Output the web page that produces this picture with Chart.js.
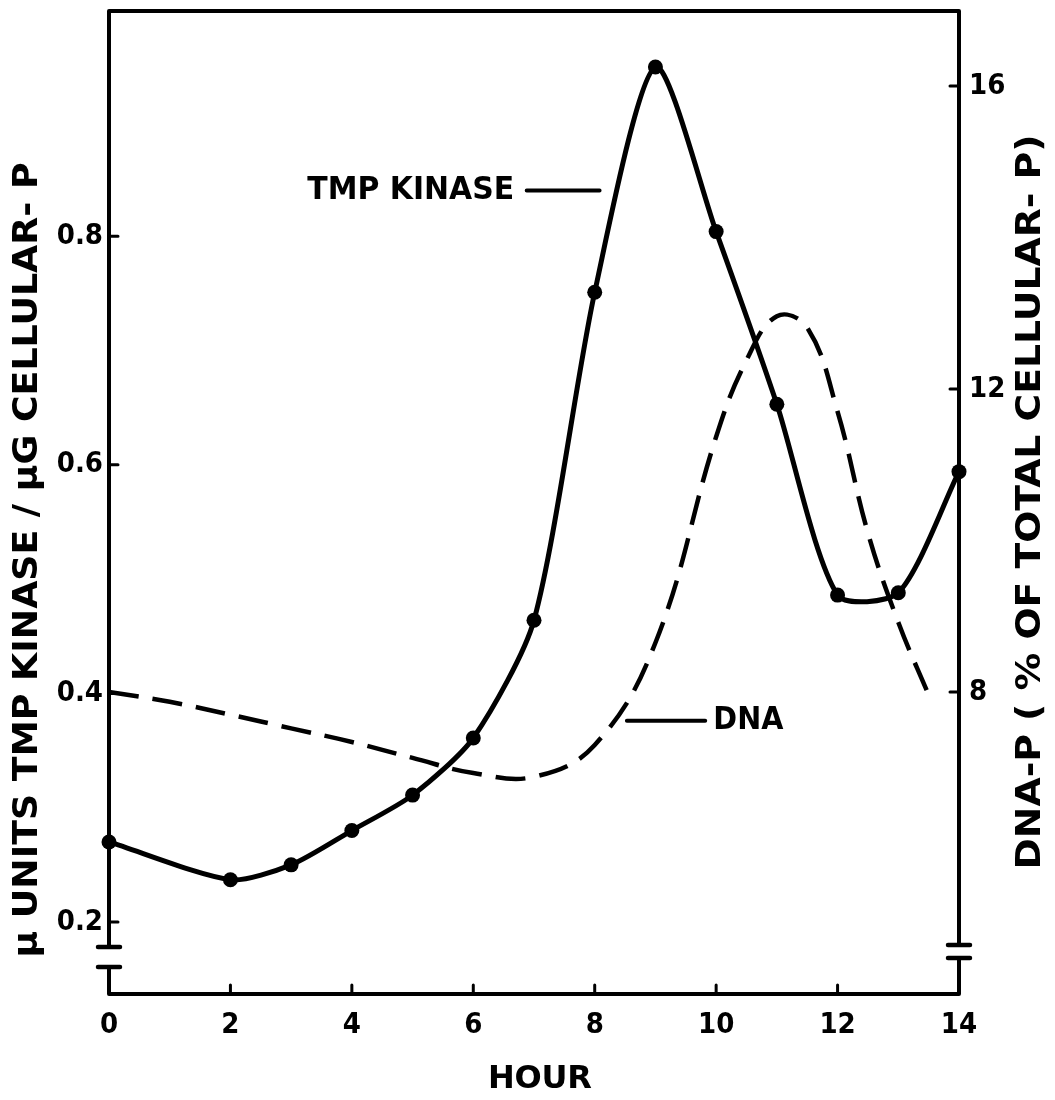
<!DOCTYPE html>
<html>
<head>
<meta charset="utf-8">
<script src="https://cdn.jsdelivr.net/npm/chart.js@4.4.1/dist/chart.umd.min.js"></script>
<style>
  html, body { margin: 0; padding: 0; background: #fff; }
  #wrap { width: 1055px; height: 1100px; position: relative; }
</style>
</head>
<body>
<div id="wrap"><canvas id="kinaseChart"></canvas></div>
<script>
// values
var kinaseHours = [0, 2, 3, 4, 5, 6, 7, 8, 9, 10, 11, 12, 13, 14];
var kinaseUnits = [0.270, 0.237, 0.250, 0.280, 0.311, 0.361, 0.464, 0.751, 0.948, 0.804, 0.653, 0.486, 0.488, 0.594];

var dnaHours = [0, 1, 2, 3, 4, 5, 6, 7, 8, 9, 10, 10.5, 11, 11.5, 12, 12.5, 13, 13.5];
var dnaPercent = [8.00, 7.87, 7.70, 7.52, 7.34, 7.13, 6.93, 6.88, 7.30, 8.65, 11.37, 12.38, 12.96, 12.81, 11.70, 10.10, 8.92, 7.96];

var hourTicks = [0, 2, 4, 6, 8, 10, 12, 14];
var kinaseTicks = [0.2, 0.4, 0.6, 0.8];
var dnaTicks = [8, 12, 16];

var FAMILY = '"DejaVu Sans"';
var NARROW = '"DejaVu Sans Condensed", "DejaVu Sans"';

var toPoints = function(xs, ys) {
    return xs.map(function(x, i) { return { x: x, y: ys[i] }; });
};

var fixTicks = function(list) {
    return function(scale) {
        scale.ticks = list.map(function(v) { return { value: v }; });
    };
};

// text squeezed/stretched to a given length, optionally rotated
var drawFitted = function(ctx, text, cx, cy, width, size, angle) {
    ctx.save();
    ctx.translate(cx, cy);
    ctx.rotate(angle || 0);
    ctx.font = 'bold ' + size + 'px ' + FAMILY;
    var w = ctx.measureText(text).width;
    ctx.scale(width / w, 1);
    ctx.textAlign = 'center';
    ctx.textBaseline = 'middle';
    ctx.fillStyle = '#000';
    ctx.fillText(text, 0, 0);
    ctx.restore();
};

// letters spread evenly over a given length
var drawSpaced = function(ctx, text, cx, cy, width, size) {
    ctx.save();
    ctx.font = 'bold ' + size + 'px ' + FAMILY;
    ctx.fillStyle = '#000';
    ctx.textAlign = 'left';
    ctx.textBaseline = 'middle';
    var widths = text.split('').map(function(c) { return ctx.measureText(c).width; });
    var sum = widths.reduce(function(a, b) { return a + b; }, 0);
    var gap = (width - sum) / (text.length - 1);
    var x = cx - width / 2;
    text.split('').forEach(function(c, i) {
        ctx.fillText(c, x, cy);
        x += widths[i] + gap;
    });
    ctx.restore();
};

var paperFrame = {
    id: 'paperFrame',
    afterDraw: function(chart) {
        var ctx = chart.ctx;
        var a = chart.chartArea;
        var xs = chart.scales.x;
        var ys = chart.scales.y;
        var ys1 = chart.scales.y1;

        ctx.save();
        ctx.strokeStyle = '#000';
        ctx.lineWidth = 4;
        ctx.lineCap = 'round';
        ctx.lineJoin = 'round';

        // box, with the broken axes near the bottom
        ctx.beginPath();
        ctx.moveTo(a.left, a.bottom - 47);
        ctx.lineTo(a.left, a.top);
        ctx.lineTo(a.right, a.top);
        ctx.lineTo(a.right, a.bottom - 49);
        ctx.moveTo(a.left, a.bottom - 27);
        ctx.lineTo(a.left, a.bottom);
        ctx.lineTo(a.right, a.bottom);
        ctx.lineTo(a.right, a.bottom - 36);
        ctx.stroke();

        ctx.lineWidth = 4.5;
        ctx.beginPath();
        [47, 27].forEach(function(d) {
            ctx.moveTo(a.left - 11, a.bottom - d);
            ctx.lineTo(a.left + 11, a.bottom - d);
        });
        [49, 36].forEach(function(d) {
            ctx.moveTo(a.right - 11, a.bottom - d);
            ctx.lineTo(a.right + 11, a.bottom - d);
        });
        ctx.stroke();

        // inward tick marks
        ctx.lineWidth = 3;
        ctx.beginPath();
        ys.ticks.forEach(function(t) {
            var p = ys.getPixelForValue(t.value);
            ctx.moveTo(a.left, p);
            ctx.lineTo(a.left + 9, p);
        });
        ys1.ticks.forEach(function(t) {
            var p = ys1.getPixelForValue(t.value);
            ctx.moveTo(a.right, p);
            ctx.lineTo(a.right - 9, p);
        });
        xs.ticks.forEach(function(t) {
            if (t.value === 0 || t.value === 14) { return; }
            var p = xs.getPixelForValue(t.value);
            ctx.moveTo(p, a.bottom);
            ctx.lineTo(p, a.bottom - 9);
        });
        ctx.stroke();

        // curve labels with leader lines
        ctx.lineWidth = 4;
        ctx.beginPath();
        ctx.moveTo(xs.getPixelForValue(6.88), ys.getPixelForValue(0.840));
        ctx.lineTo(xs.getPixelForValue(8.08), ys.getPixelForValue(0.840));
        ctx.moveTo(xs.getPixelForValue(8.53), ys1.getPixelForValue(7.62));
        ctx.lineTo(xs.getPixelForValue(9.82), ys1.getPixelForValue(7.62));
        ctx.stroke();
        ctx.restore();

        drawFitted(ctx, 'TMP KINASE', xs.getPixelForValue(4.97), ys.getPixelForValue(0.840), 207, 32);
        drawFitted(ctx, 'DNA', xs.getPixelForValue(10.53), ys1.getPixelForValue(7.62), 70, 32);

        // axis titles
        drawFitted(ctx, 'μ UNITS TMP KINASE / μG CELLULAR- P', 28, 560, 795, 34, -Math.PI / 2);
        drawFitted(ctx, 'DNA-P ( % OF TOTAL CELLULAR- P)', 1031, 502, 735, 34, -Math.PI / 2);
        drawSpaced(ctx, 'HOUR', (a.left + a.right) / 2 + 6, 1080, 104, 32);
    }
};

var tickFont = { family: NARROW, weight: 'bold', size: 29 };

var ctxK = document.getElementById('kinaseChart').getContext('2d');
var kinaseChart = new Chart(ctxK, {
    type: 'line',
    data: {
        datasets: [
            {
                label: 'TMP KINASE',
                data: toPoints(kinaseHours, kinaseUnits),
                yAxisID: 'y',
                borderColor: '#000',
                borderWidth: 5,
                pointRadius: 7.5,
                pointBackgroundColor: '#000',
                pointBorderWidth: 0,
                tension: 0.25,
                fill: false,
                clip: false
            },
            {
                label: 'DNA',
                data: toPoints(dnaHours, dnaPercent),
                yAxisID: 'y1',
                borderColor: '#000',
                borderWidth: 4.5,
                borderDash: [30, 14],
                pointRadius: 0,
                tension: 0.4,
                fill: false
            }
        ]
    },
    options: {
        responsive: true,
        maintainAspectRatio: false,
        animation: false,
        events: [],
        layout: { padding: { top: 11, left: 0, right: 0, bottom: 0 } },
        plugins: {
            legend: { display: false },
            tooltip: { enabled: false }
        },
        scales: {
            x: {
                type: 'linear',
                min: 0,
                max: 14,
                afterBuildTicks: fixTicks(hourTicks),
                afterFit: function(s) { s.height = 106; s.paddingLeft = 0; s.paddingRight = 0; },
                grid: { display: false, drawTicks: false },
                border: { display: false },
                ticks: { font: tickFont, color: '#000', padding: 14, maxRotation: 0, autoSkip: false }
            },
            y: {
                position: 'left',
                min: 0.137,
                max: 0.997,
                afterBuildTicks: fixTicks(kinaseTicks),
                afterFit: function(s) { s.width = 109; s.paddingTop = 0; s.paddingBottom = 0; },
                grid: { display: false, drawTicks: false },
                border: { display: false },
                ticks: {
                    font: tickFont, color: '#000', padding: 6,
                    callback: function(v) { return v.toFixed(1); }
                }
            },
            y1: {
                position: 'right',
                min: 4.013,
                max: 16.99,
                afterBuildTicks: fixTicks(dnaTicks),
                afterFit: function(s) { s.width = 96; s.paddingTop = 0; s.paddingBottom = 0; },
                grid: { display: false, drawTicks: false },
                border: { display: false },
                ticks: { font: tickFont, color: '#000', padding: 10 }
            }
        }
    },
    plugins: [paperFrame]
});
</script>
</body>
</html>
